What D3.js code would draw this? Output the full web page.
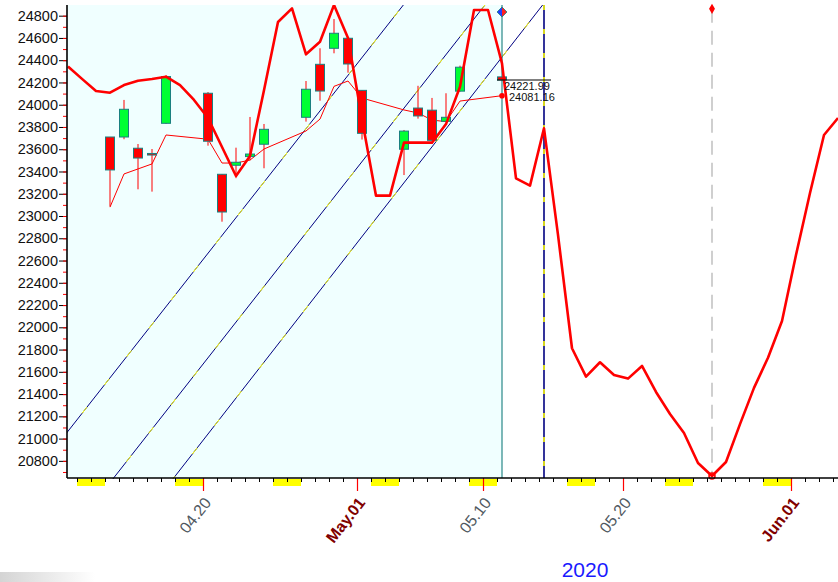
<!DOCTYPE html>
<html><head><meta charset="utf-8">
<script src="https://cdn.jsdelivr.net/npm/d3@7"></script>
<style>body{margin:0;background:#fff}svg{display:block}</style>
</head><body>
<svg id="c" width="838" height="582"></svg>
<script>
// ---------- DATA ----------
const candleDates = ["2020-04-13","2020-04-14","2020-04-15","2020-04-16","2020-04-17",
  "2020-04-20","2020-04-21","2020-04-22","2020-04-23","2020-04-24",
  "2020-04-27","2020-04-28","2020-04-29","2020-04-30","2020-05-01",
  "2020-05-04","2020-05-05","2020-05-06","2020-05-07","2020-05-08","2020-05-11"];
const opens  = [23710,23710,23609,23562,23833,24103,23375,23456,23534,23645,23887,24363,24507,24597,24129,23600,23970,23951,23851,24122,24250];
const highs  = [23710,24043,23647,23602,24264,24114,23375,23614,23890,23827,24213,24507,24770,24597,24129,23773,24170,24061,24103,24351,24250];
const lows   = [23086,23690,23240,23219,23827,23632,22949,23340,23500,23429,23848,24036,24462,24288,23687,23368,23875,23680,23845,24117,24222];
const closes = [23414,23959,23521,23548,24253,23672,23036,23483,23557,23779,24139,24123,24642,24366,23743,23763,23899,23680,23887,24337,24221.99];
const maValues = [23080,23378,23423,23468,23728,23690,23476,23476,23503,23602,23764,23871,24165,24213,24060,23953,23926,23862,23848,24033,24081.16];

// daily cycle projection, one value per calendar day from cycleStart
const cycleStart = "2020-04-10";
const cycleValues = [24343,24232,24123,24108,24177,24216,24231,24252,24177,24043,
  23881,23620,23360,23540,24130,24743,24866,24453,24566,24896,24600,
  23870,23183,23183,23659,23659,23659,23826,24162,24851,24851,24372,23339,23273,23788,
  22830,21812,21557,21686,21572,21539,21653,21419,21221,21051,20781,20664,20790,21130,
  21456,21726,22057,22649,23206,23728,23880];

// parallel channel lines: [dayOffset from cycleStart, value] pairs
const channelLines = [
  [[0.43,21078],[24.31,24896]],
  [[3.59,20642],[30.14,24896]],
  [[7.88,20642],[34.26,24896]]
];

const yTicks = d3.range(20800, 24801, 200);
const yMinorTicks = d3.range(20700, 24900, 100);
const xLabelDates = ["2020-04-20","2020-05-01","2020-05-10","2020-05-20","2020-06-01"];
const xLabels = ["04.20","May.01","05.10","05.20","Jun.01"];
const xLabelMonth = [false,true,false,false,true];
const projectionDate = "2020-05-14";
const cycleLowDate = "2020-05-26";
const cycleLowValue = 20664;
const signalValue = 24833;
const topMarkValue = 24862;
const yearLabel = "2020";

// ---------- LAYOUT ----------
const L=67, R=838, T=5, B=478;
const parse = d3.utcParse("%Y-%m-%d");
const dayMs = 864e5;
const d0 = parse(cycleStart);
const x = d3.scaleUtc().domain([parse("2020-04-10"), parse("2020-06-04")]).range([63,833]);
const y = d3.scaleLinear().domain([20646,24896]).range([B,T]);
const shift = 5;
const bx = d => x(d) + shift;
const FONT = "Arial, 'Liberation Sans', sans-serif";

const svg = d3.select("#c");
const defs = svg.append("defs");
defs.append("clipPath").attr("id","clip").append("rect")
  .attr("x",L).attr("y",T).attr("width",R-L).attr("height",B-T+1);
const grad = defs.append("linearGradient").attr("id","sh").attr("x1",0).attr("x2",1).attr("y1",0).attr("y2",0);
grad.append("stop").attr("offset",0).attr("stop-color","#d4d4d4");
grad.append("stop").attr("offset",1).attr("stop-color","#ffffff");
svg.append("rect").attr("x",0).attr("y",572).attr("width",95).attr("height",10).attr("fill","url(#sh)");

const cDates = candleDates.map(parse);
const lastDate = cDates[cDates.length-1];

// cyan history area
svg.append("rect").attr("x",L).attr("y",T).attr("width",bx(lastDate)-L).attr("height",B-T)
  .attr("fill","#f0ffff");

const g = svg.append("g").attr("clip-path","url(#clip)");

// channel lines
channelLines.forEach(pts => {
  const [p,q] = pts;
  const slope = (q[1]-p[1])/(q[0]-p[0]);
  const a = -5, b = 60;
  const seg = [[a, p[1]+slope*(a-p[0])],[b, p[1]+slope*(b-p[0])]]
    .map(([o,v]) => [x(new Date(d0.getTime()+o*dayMs)), y(v)]);
  const line = d3.line();
  g.append("path").attr("d",line(seg)).attr("stroke","#000080").attr("stroke-width",1).attr("fill","none");
  g.append("path").attr("d",line(seg)).attr("stroke","#ffff00").attr("stroke-width",1)
    .attr("stroke-dasharray","8,28").attr("fill","none");
});

// vertical lines
const vx = bx(lastDate);
g.append("line").attr("x1",vx).attr("x2",vx).attr("y1",T).attr("y2",B).attr("stroke","#007070").attr("stroke-width",1);
const px = bx(parse(projectionDate));
g.append("line").attr("x1",px).attr("x2",px).attr("y1",T).attr("y2",B).attr("stroke","#000080").attr("stroke-width",1.6);
g.append("line").attr("x1",px).attr("x2",px).attr("y1",T).attr("y2",B).attr("stroke","#ffff00").attr("stroke-width",1.6).attr("stroke-dasharray","5,19");
const lx = bx(parse(cycleLowDate));
g.append("line").attr("x1",lx).attr("x2",lx).attr("y1",y(topMarkValue)).attr("y2",B).attr("stroke","#c0c0c0").attr("stroke-width",1.5).attr("stroke-dasharray","14,8");

// thin MA line
g.append("path").datum(maValues.map((v,i)=>[bx(cDates[i]), y(v)]))
  .attr("d", d3.line()).attr("fill","none").attr("stroke","#ff0000").attr("stroke-width",1);

// candles
const cw = 9;
cDates.forEach((d,i) => {
  const cx = bx(d);
  g.append("line").attr("x1",cx).attr("x2",cx).attr("y1",y(highs[i])).attr("y2",y(lows[i]))
    .attr("stroke","#ff0000").attr("stroke-width",1);
  const top = y(Math.max(opens[i],closes[i])), bot = y(Math.min(opens[i],closes[i]));
  g.append("rect").attr("x",cx-cw/2).attr("y",top).attr("width",cw).attr("height",Math.max(bot-top,1))
    .attr("fill", closes[i] >= opens[i] ? "#00ff33" : "#ff0000")
    .attr("stroke","#1a8080").attr("stroke-width",1);
});

// thick cycle line
g.append("path").datum(cycleValues.map((v,i)=>[bx(new Date(d0.getTime()+i*dayMs)), y(v)]))
  .attr("d", d3.line()).attr("fill","none").attr("stroke","#ff0000").attr("stroke-width",2.6)
  .attr("stroke-linejoin","round");

// markers
svg.append("circle").attr("cx",lx).attr("cy",y(cycleLowValue)).attr("r",3).attr("fill","none").attr("stroke","#ff0000").attr("stroke-width",1.5);
svg.append("path").attr("d",d3.symbol(d3.symbolDiamond,30)()).attr("transform",`translate(${lx},${y(topMarkValue)})`).attr("fill","#ff0000");
const sy = y(signalValue);
svg.append("path").attr("d",`M${vx-5},${sy}L${vx},${sy-5}L${vx},${sy+5}Z`).attr("fill","#2040ff");
svg.append("path").attr("d",`M${vx+5},${sy}L${vx},${sy-5}L${vx},${sy+5}Z`).attr("fill","#ff2020");
svg.append("path").attr("d",`M${vx-5},${sy}L${vx},${sy-5}L${vx+5},${sy}L${vx},${sy+5}Z`).attr("fill","none").attr("stroke","#1a8080").attr("stroke-width",0.8);
const lastMA = maValues[maValues.length-1], lastClose = closes[closes.length-1];
svg.append("circle").attr("cx",vx).attr("cy",y(lastMA)).attr("r",2.8).attr("fill","#ff0000");
svg.append("line").attr("x1",vx-5).attr("x2",551).attr("y1",y(lastClose)).attr("y2",y(lastClose)).attr("stroke","#000").attr("stroke-width",1);
svg.append("text").attr("x",vx+2).attr("y",y(lastClose)+9.5).text(d3.format(".2f")(lastClose))
  .attr("font-family",FONT).attr("font-size",11).attr("fill","#111");
svg.append("text").attr("x",vx+7).attr("y",y(lastMA)+5).text(d3.format(".2f")(lastMA))
  .attr("font-family",FONT).attr("font-size",11).attr("fill","#111");

// ---------- AXES ----------
// weekend bars
const allDays = d3.utcDay.range(parse("2020-04-10"), parse("2020-06-05"));
allDays.filter(d => d.getUTCDay()===6).forEach(d => {
  const x1 = x(d), x2 = x(new Date(d.getTime()+2*dayMs));
  svg.append("rect").attr("x",Math.max(x1,L)).attr("y",B+1).attr("width",x2-Math.max(x1,L)).attr("height",7).attr("fill","#ffff00");
});
const xAx = svg.append("g").attr("transform",`translate(0,${B})`)
  .call(d3.axisBottom(x).tickValues(allDays.filter(d=>x(d)>=L)).tickSize(4).tickSizeOuter(0).tickFormat(""));
xAx.select(".domain").remove();
xAx.selectAll(".tick line").attr("stroke","#000");
const xAx2 = svg.append("g").attr("transform",`translate(0,${B})`)
  .call(d3.axisBottom(x).tickValues(xLabelDates.map(parse)).tickSize(13).tickSizeOuter(0).tickFormat(""));
xAx2.select(".domain").remove();
xAx2.selectAll(".tick line").attr("stroke","#ff0000").attr("stroke-width",1.2);
svg.append("line").attr("x1",L).attr("x2",R).attr("y1",B).attr("y2",B).attr("stroke","#000").attr("stroke-width",1.6);

xLabelDates.forEach((ds,i) => {
  const tx = x(parse(ds)) + 9, ty = 503;
  svg.append("text").attr("transform",`translate(${tx},${ty}) rotate(-52)`)
    .attr("text-anchor","end").text(xLabels[i])
    .attr("font-family",FONT)
    .attr("font-size",16)
    .attr("font-weight", xLabelMonth[i] ? "bold" : "normal")
    .attr("fill", xLabelMonth[i] ? "#800000" : "#505860");
});

svg.append("text").attr("x",585).attr("y",577).attr("text-anchor","middle").text(yearLabel)
  .attr("font-family",FONT).attr("font-size",21).attr("fill","#1a1aff");

const yAx = svg.append("g").attr("transform",`translate(${L},0)`)
  .call(d3.axisLeft(y).tickValues(yTicks).tickSize(8).tickSizeOuter(0).tickPadding(1).tickFormat(d3.format("d")));
yAx.select(".domain").remove();
yAx.selectAll(".tick line").attr("stroke","#000");
yAx.selectAll("text").attr("font-family",FONT).attr("font-size",14.5).attr("fill","#111");
const yAx2 = svg.append("g").attr("transform",`translate(${L},0)`)
  .call(d3.axisLeft(y).tickValues(yMinorTicks).tickSize(4).tickSizeOuter(0).tickFormat(""));
yAx2.select(".domain").remove();
yAx2.selectAll(".tick line").attr("stroke","#ff0000");
svg.append("line").attr("x1",L).attr("x2",L).attr("y1",T).attr("y2",B).attr("stroke","#000").attr("stroke-width",1.6);
</script>
</body></html>
